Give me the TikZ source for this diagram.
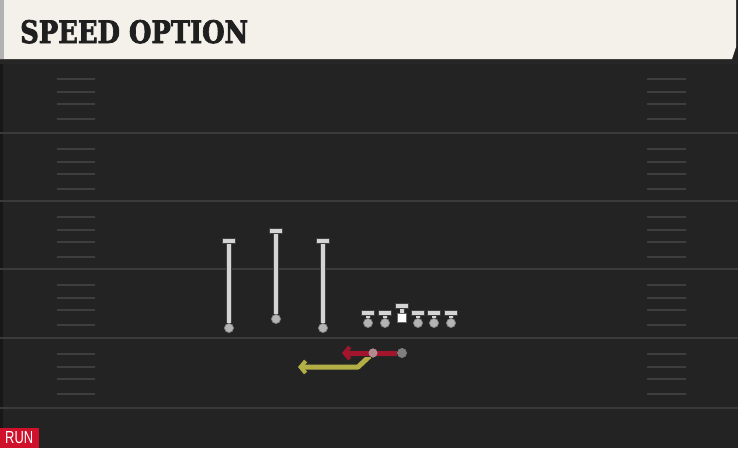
\documentclass[tikz,border=0pt]{standalone}
\usepackage{fontspec}
\setmainfont{DejaVu Serif}
\newfontfamily\titlefont{DejaVu Serif}[BoldFeatures={FakeBold=2.5}]
\newfontfamily\runfont{Liberation Sans}
\usetikzlibrary{arrows.meta}
\definecolor{field}{HTML}{232323}
\definecolor{yardc}{HTML}{3A3A3A}
\definecolor{hashc}{HTML}{3E3E3E}
\definecolor{cream}{HTML}{F4F1EA}
\definecolor{plgrey}{HTML}{D4D4D4}
\definecolor{pledge}{HTML}{7A7A7A}
\definecolor{routered}{HTML}{A3152D}
\definecolor{routeyel}{HTML}{B3AE45}
\definecolor{runred}{HTML}{D0112B}
\tikzset{
  yard/.style={draw=yardc, line width=2pt},
  hashmark/.style={draw=hashc, line width=1.4pt},
  stem/.style={draw=plgrey, line width=4pt},
  stemedge/.style={draw=black!75, line width=6pt},
  tbar/.style={rectangle, fill=plgrey, draw=black!75, line width=0.8pt, minimum width=13pt, minimum height=5pt, inner sep=0pt},
  pdot/.style={circle, fill=plgrey!85!black, draw=pledge, line width=0.6pt, minimum size=9pt, inner sep=0pt},
  csq/.style={rectangle, fill=white, draw=black!60, line width=0.6pt, minimum size=9pt, inner sep=0pt},
  rdot/.style={circle, fill=routered!30!plgrey!90!black, draw=none, minimum size=9pt, inner sep=0pt},
  redroute/.style={draw=routered, line width=5pt, -{Straight Barb[length=5pt,width=12pt,line width=4pt]}},
  yelroute/.style={draw=routeyel, line width=5pt, line join=round, -{Straight Barb[length=5pt,width=12pt,line width=4pt]}},
  routeedge/.style={draw=black!85, line width=7pt, line join=round, -{Straight Barb[length=5pt,width=14pt,line width=6pt]}}
}
\begin{document}
\begin{tikzpicture}[x=1pt,y=-1pt]
\useasboundingbox (0,0) rectangle (738,448);
% field
\fill[field] (0,0) rectangle (738,448);
\fill[black!85] (0,59) rectangle (738,64);
\fill[black!35!field] (0,64) rectangle (3,448);
% yard lines
\foreach \y in {133,201,269,338,408} {
  \draw[yard] (0,\y) -- (738,\y);
}
% hash marks
\foreach \b in {63,133,201,269,338} {
  \foreach \d in {16,29,41,56} {
    \draw[hashmark] (57,\b+\d) -- (95,\b+\d);
    \draw[hashmark] (647,\b+\d) -- (686,\b+\d);
  }
}
% header
\fill[cream] (0,0) -- (736,0) -- (736,47) -- (732,59) -- (0,59) -- cycle;
\fill[black!30] (0,0) rectangle (4,59);
\node[anchor=base west, inner sep=0pt, text=black!88] (title) at (20,43)
  {\resizebox{228pt}{23pt}{\titlefont\bfseries SPEED OPTION}};
% receivers
\node[pdot] (w1) at (229,328) {};
\node[pdot] (w2) at (276,319) {};
\node[pdot] (w3) at (323,328) {};
\coordinate (e1) at (229,241);
\coordinate (e2) at (276,231);
\coordinate (e3) at (323,241);
\foreach \i in {1,2,3} {
  \draw[stemedge] (w\i) -- (e\i);
  \draw[stem] (w\i) -- (e\i);
  \node[tbar] (t\i) at (e\i) {};
}
\foreach \i in {1,2,3} { \node[pdot] at (w\i) {}; }
% offensive line
\foreach \n/\x in {l1/368,l2/385,l4/418,l5/434,l6/451} {
  \coordinate (\n top) at (\x,313);
  \node[pdot] (\n) at (\x,323) {};
  \draw[stemedge, line width=5pt] (\n) -- (\n top);
  \draw[stem, line width=3.4pt] (\n) -- (\n top);
  \node[tbar] (\n bar) at (\n top) {};
  \node[pdot] at (\n) {};
}
\coordinate (ctop) at (402,306);
\node[csq] (center) at (402,318) {};
\draw[stemedge, line width=5pt] (center.north) -- (ctop);
\draw[stem, line width=3.4pt] (center.north) -- (ctop);
\node[tbar] (cbar) at (ctop) {};
% backs and routes
\node[pdot, fill=plgrey!60!black] (rb) at (402,353) {};
\node[rdot] (qb) at (373,353) {};
\coordinate (redend) at (342,353);
\coordinate (ybend) at (358,367);
\coordinate (yend) at (298,367);
\draw[routeedge] (qb) -- (ybend) -- (yend);
\draw[yelroute] (qb) -- (ybend) -- (yend);
\draw[routeedge] (rb) -- (redend);
\draw[redroute] (rb) -- (redend);
\node[rdot] at (qb) {};
\node[pdot, fill=plgrey!60!black] at (rb) {};
% RUN tag
\fill[runred] (0,428) rectangle (39,448);
\node[anchor=base west, inner sep=0pt, text=white] (run) at (5,443)
  {\resizebox{28pt}{12pt}{\runfont RUN}};
\end{tikzpicture}
\end{document}
